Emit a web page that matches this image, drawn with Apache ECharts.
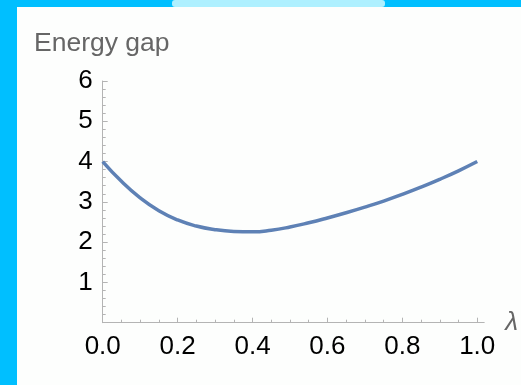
<!DOCTYPE html>
<html>
<head>
<meta charset="utf-8">
<script src="https://cdn.jsdelivr.net/npm/echarts@6/dist/echarts.min.js"></script>
<style>
html,body{margin:0;padding:0;background:#fdfefd;}
#c{width:521px;height:385px;}
</style>
</head>
<body>
<div id="c"></div>
<script>
// Data
const lambdaValues = [0, 0.05, 0.1, 0.15, 0.2, 0.25, 0.3, 0.35, 0.4, 0.45, 0.5, 0.55, 0.6, 0.65, 0.7, 0.75, 0.8, 0.85, 0.9, 0.95, 1.0];
const gapValues    = [4.00, 3.51, 3.10, 2.78, 2.55, 2.40, 2.31, 2.265, 2.255, 2.295, 2.375, 2.48, 2.60, 2.73, 2.87, 3.02, 3.185, 3.365, 3.56, 3.77, 4.00];
const xMajorTicks = [0, 0.2, 0.4, 0.6, 0.8, 1.0];
const xMinorTicks = [0.05, 0.1, 0.15, 0.25, 0.3, 0.35, 0.45, 0.5, 0.55, 0.65, 0.7, 0.75, 0.85, 0.9, 0.95];
const yTitle = 'Energy gap';
const xTitle = 'λ';

const axisGray = '#b4b4b4';
const font = 'Liberation Sans, Arial, sans-serif';
const chart = echarts.init(document.getElementById('c'), null, {renderer: 'canvas'});
const xMax = 1.0186;

chart.setOption({
  backgroundColor: '#fdfefd',
  animation: false,
  title: {
    text: yTitle, left: 34, top: 30, padding: 0,
    textStyle: {fontSize: 26.5, fontWeight: 'normal', color: '#666666', fontFamily: font}
  },
  grid: {left: 102.7, right: 34, top: 81, bottom: 62.3, containLabel: false},
  xAxis: [{
    type: 'value', min: 0, max: xMax, position: 'bottom',
    name: xTitle, nameLocation: 'end', nameGap: 21,
    nameTextStyle: {fontSize: 26, fontStyle: 'italic', color: '#666666', fontFamily: font},
    axisLine: {show: true, lineStyle: {color: axisGray, width: 1}},
    axisTick: {show: true, inside: true, length: 5, customValues: xMajorTicks, lineStyle: {color: axisGray, width: 1}},
    axisLabel: {show: true, customValues: xMajorTicks, formatter: v => v.toFixed(1), fontSize: 26, color: '#000', margin: 11, fontFamily: font},
    splitLine: {show: false}
  }, {
    type: 'value', min: 0, max: xMax, position: 'bottom',
    axisLine: {show: false},
    axisTick: {show: true, inside: true, length: 3, customValues: xMinorTicks, lineStyle: {color: axisGray, width: 1}},
    axisLabel: {show: false},
    splitLine: {show: false}
  }],
  yAxis: {
    type: 'value', min: 0, max: 6, interval: 1,
    axisLine: {show: true, lineStyle: {color: axisGray, width: 1}},
    axisTick: {show: true, inside: true, length: 5, lineStyle: {color: axisGray, width: 1}},
    minorTick: {show: true, splitNumber: 5, length: 3, lineStyle: {color: axisGray, width: 1}},
    axisLabel: {formatter: v => v === 0 ? '' : String(v), fontSize: 26, color: '#000', margin: 10, fontFamily: font},
    splitLine: {show: false}
  },
  series: [{
    type: 'line', xAxisIndex: 0,
    data: lambdaValues.map((l, i) => [l, gapValues[i]]),
    smooth: 0.5, showSymbol: false,
    lineStyle: {color: '#5E81B5', width: 3.5}
  }],
  graphic: [
    {type: 'rect', left: 0, top: 0, shape: {width: 17, height: 385}, style: {fill: '#00BFFF'}, z: 100},
    {type: 'rect', left: 0, top: 0, shape: {width: 521, height: 7}, style: {fill: '#00BFFF'}, z: 100},
    {type: 'rect', left: 172, top: 0, shape: {width: 213, height: 7, r: 3}, style: {fill: '#AEF0FF'}, z: 101}
  ]
});
</script>
</body>
</html>
